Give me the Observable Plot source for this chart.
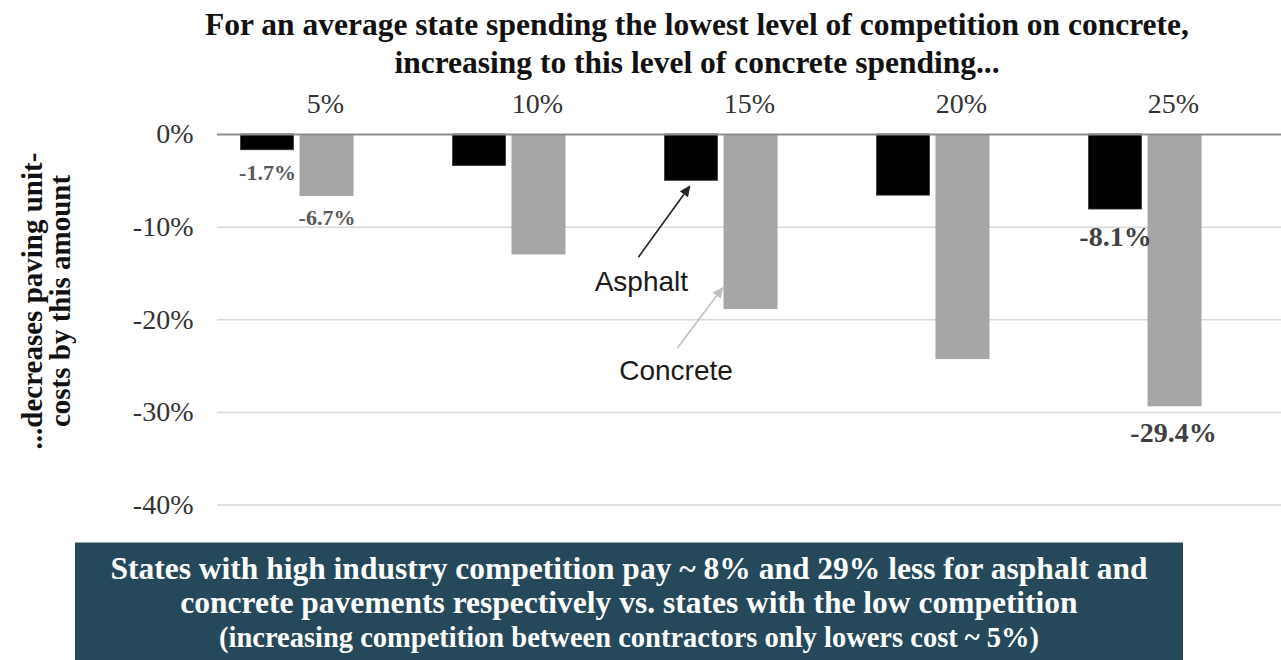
<!DOCTYPE html>
<html>
<head>
<meta charset="utf-8">
<script src="https://cdn.jsdelivr.net/npm/d3@7"></script>
<script src="https://cdn.jsdelivr.net/npm/@observablehq/plot@0.6"></script>
<style>
  html, body { margin: 0; padding: 0; background: #fff; }
  #wrap { position: relative; width: 1281px; height: 660px; overflow: hidden; background: #fff; }
  #title { position: absolute; left: 97px; top: 6px; width: 1200px; text-align: center;
    font-family: "Liberation Serif", "Times New Roman", serif; font-weight: bold; font-size: 31.5px;
    line-height: 38px; color: #111; white-space: nowrap; }
  #ytitle { position: absolute; left: 46px; top: 301px; width: 460px; text-align: center;
    transform: translate(-50%, -50%) rotate(-90deg);
    font-family: "Liberation Serif", "Times New Roman", serif; font-weight: bold; font-size: 29px;
    line-height: 28px; color: #111; white-space: nowrap; }
  #box { position: absolute; left: 75px; top: 542px; width: 1108px; height: 130px; background: #25495a;
    box-sizing: border-box; padding-top: 9px; text-align: center; border-top: 1px solid #9aa9b0;
    font-family: "Liberation Serif", "Times New Roman", serif; font-weight: bold; font-size: 31.5px;
    line-height: 34px; color: #fff; white-space: nowrap; }
  #chart { position: absolute; left: 0; top: 0; }
</style>
</head>
<body>
<div id="wrap">
  <div id="chart"></div>
  <div id="title"></div>
  <div id="ytitle"></div>
  <div id="box"></div>
</div>
<script>
// ---- data ----
const categories = ["5%", "10%", "15%", "20%", "25%"];
const asphalt = [-1.7, -3.4, -5.0, -6.6, -8.1];
const concrete = [-6.7, -13.0, -18.9, -24.3, -29.4];
const yTicks = [0, -10, -20, -30, -40];
const yTickLabels = ["0%", "-10%", "-20%", "-30%", "-40%"];
const labelCats = ["5%", "5%", "25%", "25%"];
const labelSeries = ["Asphalt", "Concrete", "Asphalt", "Concrete"];
const labelValues = [-1.7, -6.7, -8.1, -29.4];
const titleLines = [
  "For an average state spending the lowest level of competition on concrete,",
  "increasing to this level of concrete spending..."
];
const yTitleLines = ["...decreases paving unit-", "costs by this amount"];
const boxLines = [
  "States with high industry competition pay ~ 8% and 29% less for asphalt and",
  "concrete pavements respectively vs. states with the low competition",
  "(increasing competition between contractors only lowers cost ~ 5%)"
];
const seriesNames = ["Asphalt", "Concrete"];

// ---- tables ----
const rows = [];
categories.forEach((c, i) => {
  rows.push({cat: c, series: "Asphalt", value: asphalt[i]});
  rows.push({cat: c, series: "Concrete", value: concrete[i]});
});
const labels = labelCats.map((c, i) => ({cat: c, series: labelSeries[i], value: labelValues[i],
  text: labelValues[i].toFixed(1) + "%"}));

document.getElementById("title").innerHTML = titleLines.join("<br>");
document.getElementById("ytitle").innerHTML = yTitleLines.join("<br>");
document.getElementById("box").innerHTML = boxLines.map((l, i) => i === 2 ? `<span style="font-size:28.5px">${l}</span>` : l).join("<br>");

const serif = "Liberation Serif, Times New Roman, serif";
const sans = "Liberation Sans, Arial, sans-serif";

// annotation mark: arrows + labels anchored to the 15% group
function annotations(index, scales) {
  const x = scales.x, y = scales.y;
  const bs = x("15%");
  const g = d3.create("svg:g");
  const arrow = (x1, y1, x2, y2, color) => {
    const ang = Math.atan2(y2 - y1, x2 - x1);
    const L = 11, W = 5;
    const bx = x2 - L * Math.cos(ang), by = y2 - L * Math.sin(ang);
    g.append("line").attr("x1", x1).attr("y1", y1).attr("x2", bx).attr("y2", by)
      .attr("stroke", color).attr("stroke-width", 1.6);
    const px = -Math.sin(ang) * W, py = Math.cos(ang) * W;
    g.append("polygon").attr("points", `${x2},${y2} ${bx + px},${by + py} ${bx - px},${by - py}`)
      .attr("fill", color);
  };
  arrow(bs - 4.6, y(-13.3), bs + 47.4, y(asphalt[2]) + 5, "#222");
  arrow(bs + 34.4, y(-23.1), bs + 80.4, y(-16.5), "#c0c0c0");
  g.append("text").attr("x", bs - 1.6).attr("y", y(-15.9)).attr("dy", "0.35em")
    .attr("text-anchor", "middle").attr("font-family", sans).attr("font-size", 28)
    .attr("fill", "#1a1a1a").text(seriesNames[0]);
  g.append("text").attr("x", bs + 33).attr("y", y(-25.5)).attr("dy", "0.35em")
    .attr("text-anchor", "middle").attr("font-family", sans).attr("font-size", 28)
    .attr("fill", "#1a1a1a").text(seriesNames[1]);
  return g.node();
}

const isAsph = (d) => d.series === "Asphalt";
const small = (d) => d.cat === "5%";

const chart = Plot.plot({
  width: 1281,
  height: 520,
  marginTop: 134,
  marginBottom: 15.5,
  marginLeft: 217,
  marginRight: 0,
  style: {fontFamily: serif, background: "transparent"},
  x: {domain: categories, padding: 0, axis: null, label: null},
  y: {domain: [-40, 0], axis: null, label: null},
  marks: [
    Plot.ruleY(yTicks.filter(d => d !== 0), {stroke: "#d9d9d9", strokeWidth: 1.5}),
    Plot.barY(rows.filter(isAsph), {x: "cat", y: "value", fill: "#000",
      stroke: "#333", strokeWidth: 0.8, insetLeft: 21.5, insetRight: 137.5}),
    Plot.barY(rows.filter(d => !isAsph(d)), {x: "cat", y: "value", fill: "#a6a6a6",
      insetLeft: 80.5, insetRight: 77.5}),
    Plot.ruleY([0], {stroke: "#8c8c8c", strokeWidth: 2}),
    Plot.axisY({ticks: yTicks, tickFormat: (d) => yTickLabels[yTicks.indexOf(d)], tickSize: 0,
      tickPadding: 24, fontSize: 28, fill: "#333", anchor: "left", label: null}),
    Plot.axisX({anchor: "top", tickSize: 0, tickPadding: 22, fontSize: 28, fill: "#333", label: null}),
    // value labels (small)
    Plot.text(labels.filter(d => small(d) && isAsph(d)), {x: "cat", y: "value", text: "text",
      dx: -58, dy: 22.5, fontSize: 22, fontWeight: "bold", fill: "#595959"}),
    Plot.text(labels.filter(d => small(d) && !isAsph(d)), {x: "cat", y: "value", text: "text",
      dx: 1.5, dy: 21.7, fontSize: 22, fontWeight: "bold", fill: "#595959"}),
    // value labels (large)
    Plot.text(labels.filter(d => !small(d) && isAsph(d)), {x: "cat", y: "value", text: "text",
      dx: -58, dy: 27.5, fontSize: 28, fontWeight: "bold", fill: "#404040"}),
    Plot.text(labels.filter(d => !small(d) && !isAsph(d)), {x: "cat", y: "value", text: "text",
      dx: 0, dy: 26.7, fontSize: 28, fontWeight: "bold", fill: "#404040"}),
    annotations
  ]
});
document.getElementById("chart").appendChild(chart);
</script>
</body>
</html>
